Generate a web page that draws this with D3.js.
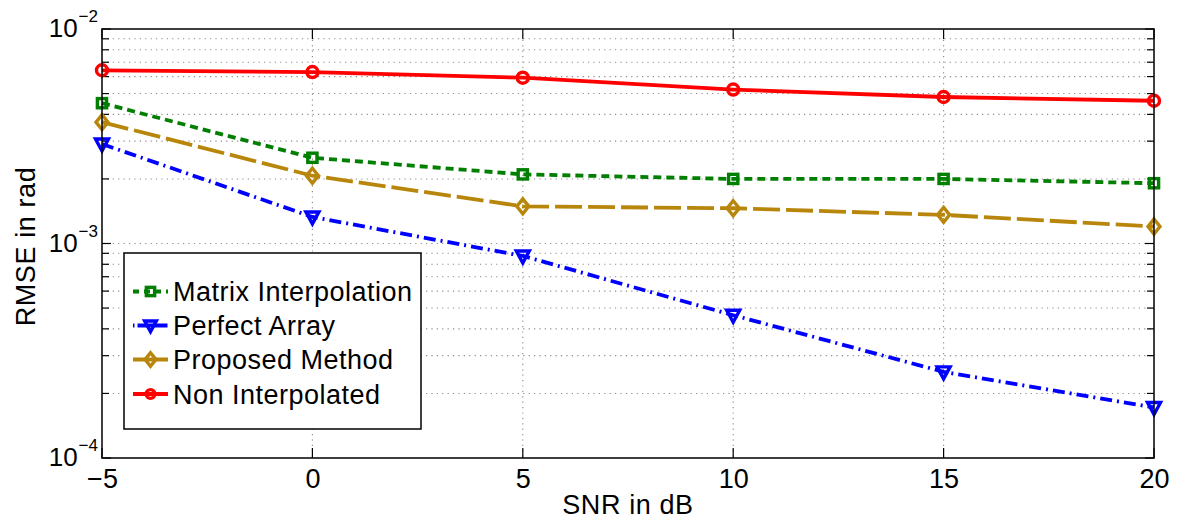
<!DOCTYPE html>
<html>
<head>
<meta charset="utf-8">
<script src="https://cdn.jsdelivr.net/npm/d3@7"></script>
<style>
  html, body { margin: 0; padding: 0; background: #fff; }
  svg { display: block; font-family: "Liberation Sans", Arial, Helvetica, sans-serif; }
</style>
</head>
<body>
<svg id="chart" width="1179" height="521"></svg>
<script>
// SNR values on the x axis (dB)
const snr = [-5, 0, 5, 10, 15, 20];
const xTicks = [-5, 0, 5, 10, 15, 20];
const yMajorExp = [-4, -3, -2];

// RMSE values per method (rad)
const matrixInterp = [4.51e-3, 2.51e-3, 2.10e-3, 2.00e-3, 2.00e-3, 1.91e-3];
const perfectArray = [2.91e-3, 1.33e-3, 8.75e-4, 4.63e-4, 2.52e-4, 1.72e-4];
const proposed     = [3.68e-3, 2.07e-3, 1.49e-3, 1.46e-3, 1.36e-3, 1.20e-3];
const nonInterp    = [6.42e-3, 6.30e-3, 5.93e-3, 5.22e-3, 4.82e-3, 4.63e-3];

const seriesNames = ["Matrix Interpolation", "Perfect Array", "Proposed Method", "Non Interpolated"];

const series = [
  { name: seriesNames[0], values: matrixInterp, color: "#007f00", dash: "8,5",      marker: "square" },
  { name: seriesNames[1], values: perfectArray, color: "#0000ff", dash: "12,5,2,5", marker: "triangle" },
  { name: seriesNames[2], values: proposed,     color: "#b8860b", dash: "27,6",     marker: "diamond" },
  { name: seriesNames[3], values: nonInterp,    color: "#ff0000", dash: null,       marker: "circle" }
];
const lineW = 3.8;
const fontSize = 27;

const svg = d3.select("#chart");
const m = { left: 102, right: 1154, top: 29, bottom: 458 };

const x = d3.scaleLinear().domain([-5, 20]).range([m.left, m.right]);
const y = d3.scaleLog().domain([1e-4, 1e-2]).range([m.bottom, m.top]);

// log positions 1..9 for each decade
const yMinor = [];
for (let e = -4; e < -2; e++) for (let k = 1; k <= 9; k++) yMinor.push(k * Math.pow(10, e));
yMinor.push(1e-2);

// dotted grid
const grid = svg.append("g").attr("stroke", "#8a8a8a").attr("stroke-width", 1.1)
  .attr("stroke-dasharray", "1.2,4.2").attr("fill", "none");
grid.selectAll("line.h").data(yMinor.filter(v => v > 1e-4 && v < 1e-2)).join("line")
  .attr("x1", m.left).attr("x2", m.right)
  .attr("y1", d => y(d)).attr("y2", d => y(d));
grid.selectAll("line.v").data(xTicks.slice(1, -1)).join("line")
  .attr("y1", m.top).attr("y2", m.bottom)
  .attr("x1", d => x(d)).attr("x2", d => x(d));

// tick marks on all four sides
const ticks = svg.append("g").attr("stroke", "#000").attr("stroke-width", 1.2);
yMinor.forEach(v => {
  const isMajor = Math.abs(Math.log10(v) - Math.round(Math.log10(v))) < 1e-9;
  const len = isMajor ? 9 : 7;
  ticks.append("line").attr("x1", m.left).attr("x2", m.left + len).attr("y1", y(v)).attr("y2", y(v));
  ticks.append("line").attr("x1", m.right).attr("x2", m.right - len).attr("y1", y(v)).attr("y2", y(v));
});
xTicks.forEach(v => {
  ticks.append("line").attr("x1", x(v)).attr("x2", x(v)).attr("y1", m.bottom).attr("y2", m.bottom - 10);
  ticks.append("line").attr("x1", x(v)).attr("x2", x(v)).attr("y1", m.top).attr("y2", m.top + 10);
});

// x tick labels via d3 axis
const xAxis = d3.axisBottom(x).tickValues(xTicks).tickSize(0).tickPadding(0)
  .tickFormat(d => d < 0 ? "\u2212" + Math.abs(d) : String(d));
const gx = svg.append("g").attr("transform", `translate(0,${m.bottom})`).call(xAxis);
gx.select(".domain").remove();
gx.selectAll("text").attr("font-size", fontSize).attr("fill", "#000")
  .attr("dy", null).attr("y", 30).attr("font-family", "Liberation Sans, Arial, sans-serif");

// y tick labels: 10 with superscript exponent
const gy = svg.append("g");
yMajorExp.forEach(e => {
  const yy = y(Math.pow(10, e));
  const t = gy.append("text").attr("x", 98).attr("y", yy + 8).attr("text-anchor", "end")
    .attr("font-size", 26).attr("fill", "#000");
  t.append("tspan").text("10");
  t.append("tspan").attr("font-size", 17).attr("dx", 1).attr("dy", -15).text("\u2212" + Math.abs(e));
});

// axis titles
svg.append("text").attr("x", (m.left + m.right) / 2).attr("y", 514).attr("text-anchor", "middle")
  .attr("font-size", fontSize).attr("letter-spacing", 0.6).attr("fill", "#000").text("SNR in dB");
svg.append("text").attr("transform", `translate(35,${(m.top + m.bottom) / 2 + 3}) rotate(-90)`)
  .attr("text-anchor", "middle").attr("font-size", fontSize).attr("letter-spacing", 0.6)
  .attr("fill", "#000").text("RMSE in rad");

// marker drawing helper
function drawMarker(g, type, cx, cy, color, s) {
  const sw = 3.4;
  if (type === "circle") {
    g.append("circle").attr("cx", cx).attr("cy", cy).attr("r", 5.5 * s)
      .attr("fill", "none").attr("stroke", color).attr("stroke-width", sw);
  } else if (type === "square") {
    const h = 4.6 * s;
    g.append("rect").attr("x", cx - h).attr("y", cy - h).attr("width", 2 * h).attr("height", 2 * h)
      .attr("fill", "none").attr("stroke", color).attr("stroke-width", sw);
  } else if (type === "diamond") {
    const hw = 6 * s, hh = 7.5 * s;
    g.append("path").attr("d", `M${cx},${cy - hh}L${cx + hw},${cy}L${cx},${cy + hh}L${cx - hw},${cy}Z`)
      .attr("fill", "none").attr("stroke", color).attr("stroke-width", sw);
  } else if (type === "triangle") {
    const w = 6.5 * s, h = 5 * s;
    g.append("path").attr("d", `M${cx - w},${cy - h}L${cx + w},${cy - h}L${cx},${cy + h + 2 * s}Z`)
      .attr("fill", "none").attr("stroke", color).attr("stroke-width", sw).attr("stroke-linejoin", "miter");
  }
}

// series lines and markers
const lineGen = d3.line().x((d, i) => x(snr[i])).y(d => y(d));
const plot = svg.append("g");
series.forEach(s => {
  plot.append("path").datum(s.values).attr("d", lineGen)
    .attr("fill", "none").attr("stroke", s.color).attr("stroke-width", lineW)
    .attr("stroke-dasharray", s.dash).attr("stroke-linejoin", "round");
});
series.slice().reverse().forEach(s => {
  const mg = plot.append("g");
  s.values.forEach((v, i) => drawMarker(mg, s.marker, x(snr[i]), y(v), s.color, 1));
});

// axes frame
svg.append("rect").attr("x", m.left).attr("y", m.top)
  .attr("width", m.right - m.left).attr("height", m.bottom - m.top)
  .attr("fill", "none").attr("stroke", "#000").attr("stroke-width", 1.5);

// legend
const lg = svg.append("g");
lg.append("rect").attr("x", 124).attr("y", 253).attr("width", 297).attr("height", 176)
  .attr("fill", "#fff").attr("stroke", "#000").attr("stroke-width", 1.5);
const legendY = [291.5, 325.5, 359.5, 394];
series.forEach((s, i) => {
  const ly = legendY[i];
  lg.append("line").attr("x1", 133).attr("x2", 168).attr("y1", ly).attr("y2", ly)
    .attr("stroke", s.color).attr("stroke-width", lineW)
    .attr("stroke-dasharray", s.marker === "square" ? "6,5" : (s.marker === "triangle" ? "1.5,3,30,3" : null));
  drawMarker(lg, s.marker, 150.5, ly, s.color, s.marker === "circle" ? 0.8 : 0.9);
  lg.append("text").attr("x", 173).attr("y", ly + 9.5).attr("font-size", fontSize)
    .attr("letter-spacing", 0.5).attr("fill", "#000").text(s.name);
});
</script>
</body>
</html>
